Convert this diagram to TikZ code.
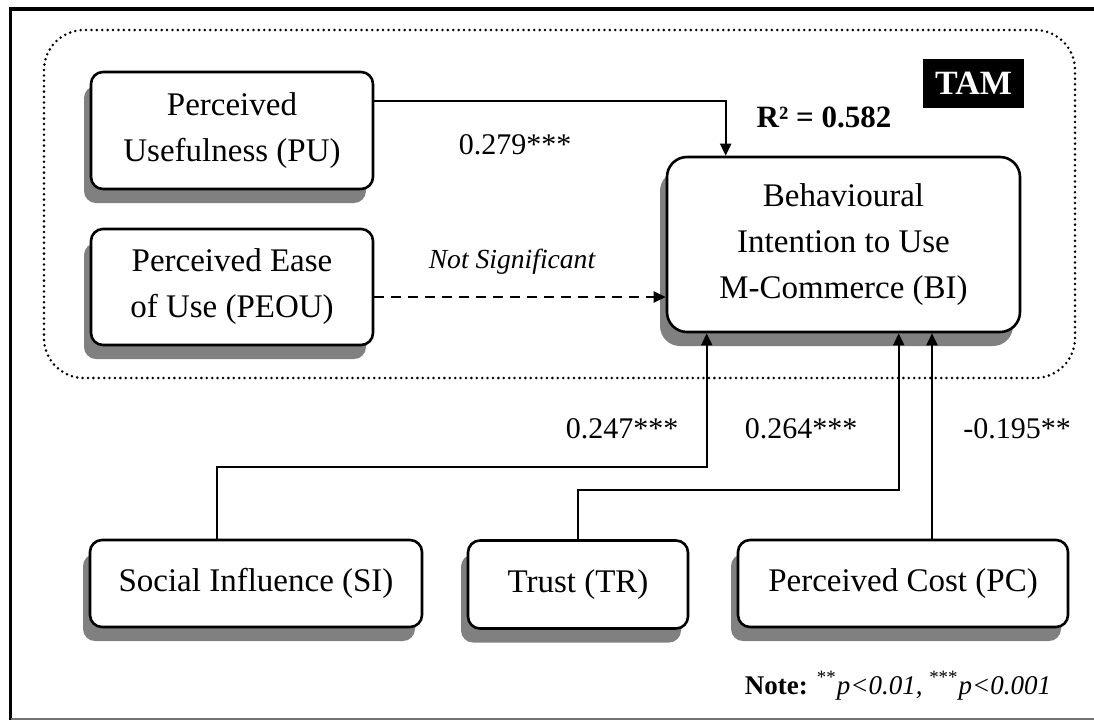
\documentclass[tikz,border=0pt]{standalone}
\usepackage{fontspec}
\setmainfont{Liberation Serif}
\usetikzlibrary{arrows.meta,shadows,calc}
\begin{document}
\begin{tikzpicture}[x=0.5pt,y=-0.5pt,
  box/.style={draw=black, line width=1.3pt, fill=white, rounded corners=6pt,
    align=center, inner sep=0pt, font=\fontsize{16.5}{23}\selectfont,
    drop shadow={shadow xshift=-3.5pt, shadow yshift=-7pt, fill=black!50, opacity=1}},
  arr/.style={line width=1pt, -{Triangle[length=6pt,width=5.5pt]}},
  lbl/.style={font=\fontsize{15}{18}\selectfont, anchor=base, inner sep=0pt},
  tamframe/.style={line width=1.4pt, dash pattern=on 0pt off 2.7pt, line cap=round, rounded corners=20pt}]
\useasboundingbox (0,0) rectangle (1094,720);
% outer frame
\draw[line width=1.8pt] (10.5,720) -- (10.5,9) -- (1094,9);
\draw[black!55, line width=1pt] (10.5,718.5) -- (1094,718.5);
% TAM region
\draw[tamframe] (44,30) rectangle (1075,378);
\node[fill=black, text=white, font=\fontsize{17}{18}\selectfont\bfseries,
  minimum width=50.5pt, minimum height=24.5pt, inner sep=0pt] (tam) at (973.5,83.5) {TAM};
% boxes
\node[box, minimum width=141pt, minimum height=58.5pt] (PU) at (232,130.5) {Perceived\\Usefulness (PU)};
\node[box, minimum width=141pt, minimum height=58pt] (PEOU) at (232,287) {Perceived Ease\\of Use (PEOU)};
\node[box, minimum width=176.5pt, minimum height=87.5pt, rounded corners=10pt] (BI) at (843.5,244.5) {Behavioural\\Intention to Use\\M-Commerce (BI)};
\node[box, minimum width=166pt, minimum height=43.5pt] (SI) at (256,583.5) {Social Influence (SI)};
\node[box, minimum width=110pt, minimum height=44pt] (TR) at (578,584.5) {Trust (TR)};
\node[box, minimum width=165pt, minimum height=43.5pt] (PC) at (903,583.5) {Perceived Cost (PC)};
% connectors
\coordinate (pu1) at ($(PU.east)+(0,-29.5)$);
\coordinate (bi1) at ($(BI.north west)+(60,0)$);
\draw[arr] (pu1) -| (bi1);
\coordinate (pe1) at ($(PEOU.east)+(0,10)$);
\draw[arr, dash pattern=on 5pt off 3.5pt] (pe1) -- (pe1 -| BI.west);
\coordinate (si1) at ($(SI.north)+(-39,0)$);
\coordinate (bi2) at ($(BI.south west)+(41,0)$);
\draw[arr] (si1) -- ++(0,-72) -| (bi2);
\coordinate (bi3) at ($(BI.south west)+(233,0)$);
\draw[arr] (TR.north) -- ++(0,-49) -| (bi3);
\coordinate (pc1) at ($(PC.north)+(29,0)$);
\draw[arr] (pc1) -- (pc1 |- BI.south);
% labels
\node[lbl, font=\fontsize{15.5}{18}\selectfont\bfseries] (r2) at (824,127) {R² = 0.582};
\node[lbl] (l1) at (515,154) {0.279***};
\node[lbl, font=\fontsize{13.8}{16}\selectfont\itshape] (l2) at (512,268) {Not Significant};
\node[lbl] (l3) at (622,438) {0.247***};
\node[lbl] (l4) at (801,438) {0.264***};
\node[lbl] (l5) at (1017,438) {-0.195**};
\node[lbl, font=\fontsize{13.5}{16}\selectfont] (note) at (898,694) {\textbf{Note:} \textsuperscript{**}\textit{p<0.01,} \textsuperscript{***}\textit{p<0.001}};
\end{tikzpicture}
\end{document}
